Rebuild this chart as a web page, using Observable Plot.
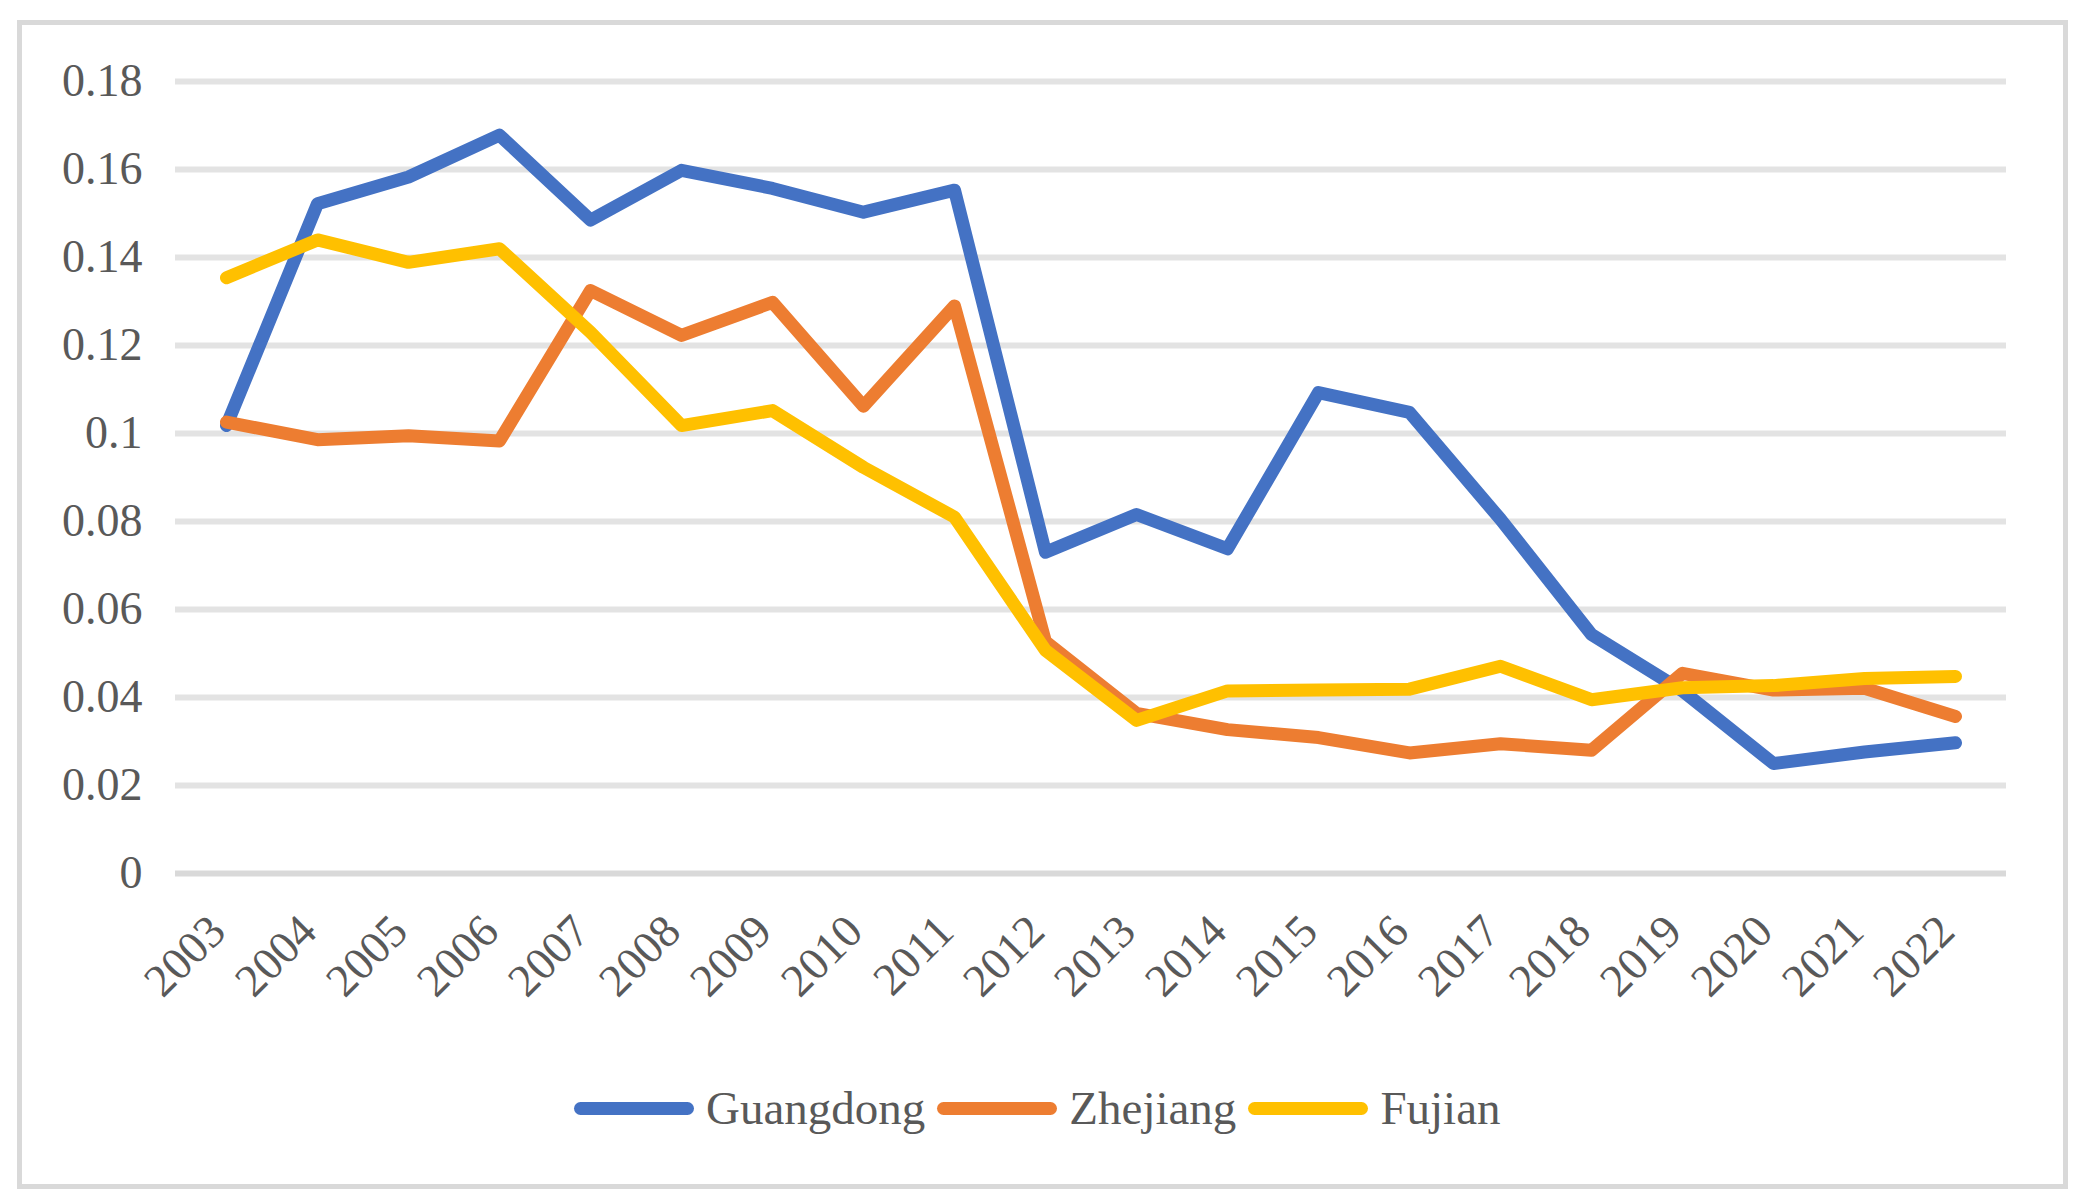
<!DOCTYPE html>
<html><head><meta charset="utf-8">
<script src="https://cdn.jsdelivr.net/npm/d3@7"></script>
<script src="https://cdn.jsdelivr.net/npm/@observablehq/plot@0.6"></script>
<style>
html,body{margin:0;padding:0;background:#fff;}
#chart{position:relative;width:2084px;height:1202px;overflow:hidden;font-family:"Liberation Serif","Times New Roman",serif;color:#595959;background:#fff;}
#frame{position:absolute;left:17px;top:20px;width:2051px;height:1169px;box-sizing:border-box;border:5px solid #d9d9d9;}
#plot{position:absolute;left:0;top:0;}
#legend{position:absolute;left:574px;top:1080px;height:56px;display:flex;align-items:center;font-size:47px;white-space:nowrap;}
.sw{width:120px;height:13px;border-radius:6.5px;}
.lab{margin-left:12px;margin-right:12px;}
</style></head>
<body><div id="chart"><div id="frame"></div><div id="plot"></div><div id="legend"></div></div>
<script>
const years = ["2003","2004","2005","2006","2007","2008","2009","2010","2011","2012","2013","2014","2015","2016","2017","2018","2019","2020","2021","2022"];
const seriesNames = ["Guangdong","Zhejiang","Fujian"];
const seriesColors = ["#4472C4","#ED7D31","#FFC000"];
const guangdong = [0.1018,0.1522,0.1583,0.1678,0.1485,0.1598,0.1557,0.1503,0.1553,0.0730,0.0816,0.0738,0.1093,0.1048,0.0805,0.0543,0.0415,0.0250,0.0276,0.0297];
const zhejiang  = [0.1026,0.0986,0.0995,0.0983,0.1325,0.1223,0.1298,0.1062,0.1290,0.0527,0.0364,0.0327,0.0309,0.0274,0.0295,0.0280,0.0455,0.0417,0.0421,0.0357];
const fujian    = [0.1354,0.1440,0.1389,0.1420,0.1230,0.1018,0.1052,0.0923,0.0810,0.0507,0.0348,0.0415,0.0417,0.0419,0.0471,0.0395,0.0422,0.0427,0.0443,0.0448];
const yTicks = [0,0.02,0.04,0.06,0.08,0.1,0.12,0.14,0.16,0.18];

const valuesBySeries = [guangdong, zhejiang, fujian];
const rows = [];
seriesNames.forEach((s, i) => years.forEach((y, j) => rows.push({year: y, series: s, value: valuesBySeries[i][j]})));

const chart = Plot.plot({
  width: 2084,
  height: 1040,
  marginLeft: 175,
  marginRight: 78,
  marginTop: 81,
  marginBottom: 167,
  style: {fontFamily: '"Liberation Serif","Times New Roman",serif', fontSize: "46px", color: "#595959", background: "transparent", overflow: "visible"},
  x: {type: "point", domain: years, padding: 0.5, label: null},
  y: {domain: [0, 0.18], label: null},
  color: {domain: seriesNames, range: seriesColors},
  marks: [
    Plot.gridY(yTicks.filter(d => d !== 0), {stroke: "#e3e3e3", strokeOpacity: 1, strokeWidth: 6}),
    Plot.ruleY([0], {stroke: "#d9d9d9", strokeWidth: 6}),
    Plot.axisY(yTicks, {tickSize: 0, tickPadding: 33, tickFormat: d => String(d), fontSize: 46, label: null}),
    Plot.axisX({tickSize: 0, tickRotate: -45, tickPadding: 50, dx: -9, fontSize: 46, textAnchor: "end", label: null}),
    Plot.line(rows, {x: "year", y: "value", z: "series", stroke: "series", strokeWidth: 13, strokeLinecap: "round", strokeLinejoin: "round"})
  ]
});
document.getElementById("plot").appendChild(chart);

const legend = document.getElementById("legend");
seriesNames.forEach((s, i) => {
  const sw = document.createElement("div");
  sw.className = "sw";
  sw.style.background = seriesColors[i];
  const lab = document.createElement("span");
  lab.className = "lab";
  lab.textContent = s;
  legend.appendChild(sw);
  legend.appendChild(lab);
});
</script>
</body></html>
